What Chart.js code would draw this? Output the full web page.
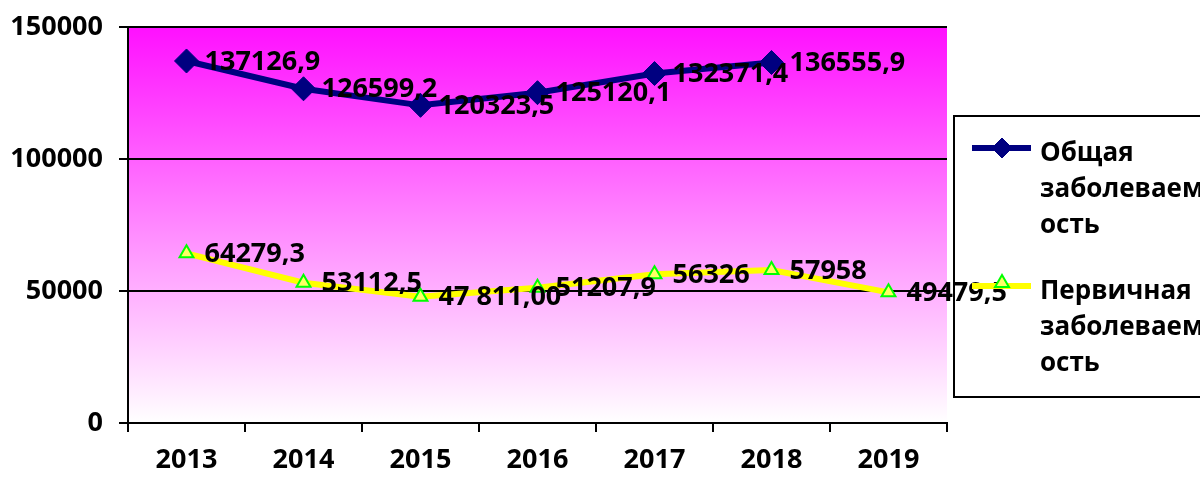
<!DOCTYPE html>
<html>
<head>
<meta charset="utf-8">
<script src="https://cdn.jsdelivr.net/npm/chart.js@4/dist/chart.umd.min.js"></script>
<style>
  html, body { margin: 0; padding: 0; background: #fff; }
  #wrap { width: 1200px; height: 480px; position: relative; }
</style>
</head>
<body>
<div id="wrap"><canvas id="chart"></canvas></div>
<script>
// Data
const years = ['2013', '2014', '2015', '2016', '2017', '2018', '2019'];
const totalValues = [137126.9, 126599.2, 120323.5, 125120.1, 132371.4, 136555.9, null];
const totalLabels = ['137126,9', '126599,2', '120323,5', '125120,1', '132371,4', '136555,9', ''];
const primaryValues = [64279.3, 53112.5, 47811.0, 51207.9, 56326, 57958, 49479.5];
const primaryLabels = ['64279,3', '53112,5', '47 811,00', '51207,9', '56326', '57958', '49479,5'];
const seriesNames = [['Общая', 'заболеваем', 'ость'], ['Первичная', 'заболеваем', 'ость']];
const yTicks = [0, 50000, 100000, 150000];

const FAMILY = '"Open Sans", sans-serif';
const FONT = 'bold 27px ' + FAMILY;

// gradient plot background + thin top line
const bgPlugin = {
    id: 'bg',
    beforeDraw(chart) {
        const { ctx, chartArea: a } = chart;
        const g = ctx.createLinearGradient(0, a.top, 0, a.bottom);
        g.addColorStop(0, '#ff10ff');
        g.addColorStop(1, '#ffffff');
        ctx.save();
        ctx.fillStyle = g;
        ctx.fillRect(a.left, a.top, a.right - a.left, a.bottom - a.top);
        ctx.strokeStyle = '#c8c8c8';
        ctx.lineWidth = 1;
        ctx.beginPath();
        ctx.moveTo(a.left, a.top - 0.5);
        ctx.lineTo(a.right, a.top - 0.5);
        ctx.stroke();
        ctx.restore();
    }
};

// value labels to the right of each point
const labelPlugin = {
    id: 'valueLabels',
    afterDatasetsDraw(chart) {
        const ctx = chart.ctx;
        const lists = [totalLabels, primaryLabels];
        ctx.save();
        ctx.font = FONT;
        ctx.fillStyle = '#000';
        ctx.textBaseline = 'middle';
        chart.data.datasets.forEach((ds, i) => {
            chart.getDatasetMeta(i).data.forEach((pt, j) => {
                if (ds.data[j] == null) return;
                ctx.fillText(lists[i][j], pt.x + 18, pt.y + 1);
            });
        });
        ctx.restore();
    }
};

// legend box on the right (drawn by hand, like the original)
const legendPlugin = {
    id: 'sideLegend',
    afterDraw(chart) {
        const ctx = chart.ctx;
        const x0 = 954, y0 = 116, x1 = 1206, y1 = 397;
        ctx.save();
        ctx.strokeStyle = '#000';
        ctx.lineWidth = 2;
        ctx.strokeRect(x0, y0, x1 - x0, y1 - y0);

        const rows = [148, 286];
        chart.data.datasets.forEach((ds, i) => {
            const y = rows[i];
            ctx.strokeStyle = ds.borderColor;
            ctx.lineWidth = 6;
            ctx.beginPath();
            ctx.moveTo(972, y);
            ctx.lineTo(1031, y);
            ctx.stroke();

            ctx.fillStyle = ds.pointBackgroundColor;
            ctx.strokeStyle = ds.pointBorderColor;
            ctx.lineWidth = ds.pointBorderWidth;
            Chart.helpers.drawPoint(ctx, {
                pointStyle: ds.pointStyle,
                radius: i === 0 ? 10 : 8,
                borderWidth: ds.pointBorderWidth
            }, 1002, i === 0 ? y : y - 3);

            ctx.fillStyle = '#000';
            ctx.font = 'bold 26px ' + FAMILY;
            ctx.textBaseline = 'middle';
            seriesNames[i].forEach((line, k) => {
                ctx.fillText(line, 1040, y + 6 + k * 36);
            });
        });
        ctx.restore();
    }
};

new Chart(document.getElementById('chart'), {
    type: 'line',
    data: {
        labels: years,
        datasets: [{
            label: 'Общая заболеваемость',
            data: totalValues,
            borderColor: '#000080',
            backgroundColor: '#000080',
            borderWidth: 6,
            pointStyle: 'rectRot',
            pointRadius: 12,
            pointBackgroundColor: '#000080',
            pointBorderColor: '#000080',
            pointBorderWidth: 1,
            tension: 0
        }, {
            label: 'Первичная заболеваемость',
            data: primaryValues,
            borderColor: '#ffff00',
            backgroundColor: '#ffff00',
            borderWidth: 6,
            pointStyle: 'triangle',
            pointRadius: 8,
            pointBackgroundColor: '#ffff66',
            pointBorderColor: '#00ff00',
            pointBorderWidth: 2,
            tension: 0
        }]
    },
    options: {
        responsive: true,
        maintainAspectRatio: false,
        animation: false,
        layout: { padding: { top: 27, right: 253, left: 0, bottom: 0 } },
        plugins: {
            legend: { display: false },
            tooltip: { enabled: false }
        },
        scales: {
            x: {
                offset: true,
                grid: {
                    offset: true,
                    drawOnChartArea: false,
                    color: '#000',
                    lineWidth: 2,
                    tickLength: 9
                },
                border: { color: '#000', width: 2 },
                ticks: {
                    color: '#000',
                    font: { family: FAMILY, size: 27, weight: 'bold' },
                    padding: 12,
                    maxRotation: 0
                },
                afterFit(scale) {
                    scale.height = 57;
                    scale.paddingLeft = 0;
                    scale.paddingRight = 0;
                }
            },
            y: {
                min: 0,
                max: 150000,
                afterBuildTicks(scale) {
                    scale.ticks = yTicks.map(v => ({ value: v }));
                },
                grid: {
                    color: '#000',
                    lineWidth: 2,
                    tickLength: 9
                },
                border: { color: '#000', width: 2 },
                ticks: {
                    color: '#000',
                    font: { family: FAMILY, size: 27, weight: 'bold' },
                    padding: 16,
                    callback: v => String(v)
                },
                afterFit(scale) {
                    scale.width = 128;
                    scale.paddingTop = 0;
                    scale.paddingBottom = 0;
                }
            }
        }
    },
    plugins: [bgPlugin, labelPlugin, legendPlugin]
});
</script>
</body>
</html>
